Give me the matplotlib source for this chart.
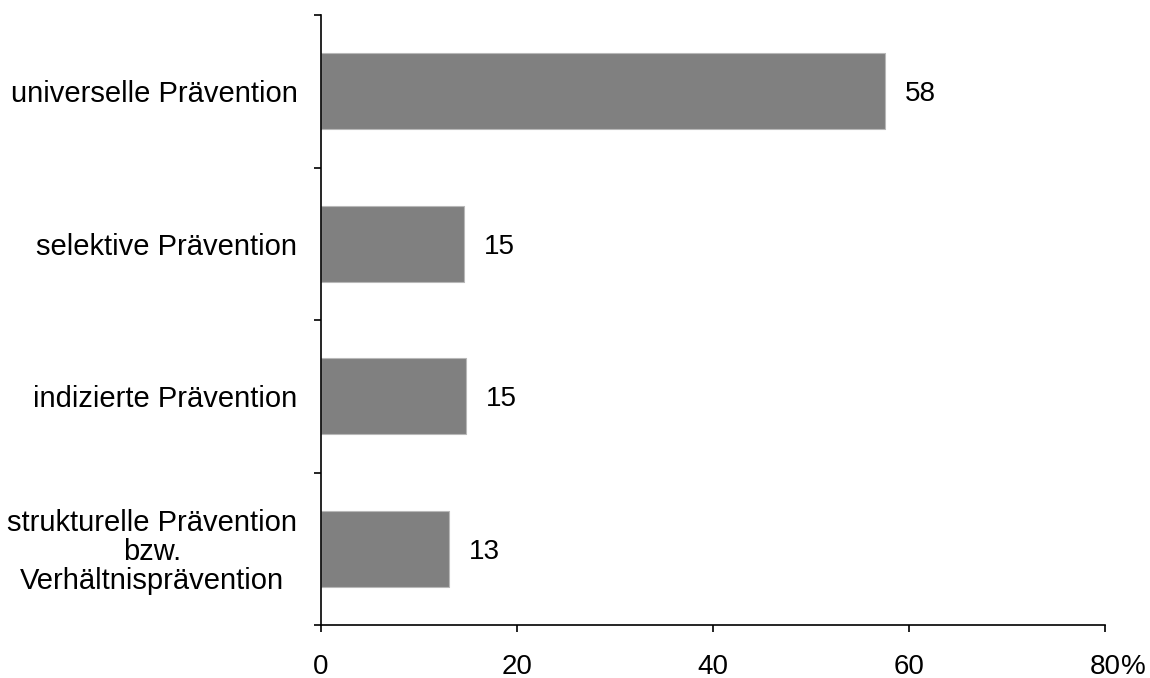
import numpy as np
import matplotlib.pyplot as plt
from matplotlib.ticker import FixedLocator

plt.rcParams['font.family'] = ['Liberation Sans', 'DejaVu Sans']

# shares of prevention approaches (%)
categories = [
    "universelle Prävention",
    "selektive Prävention",
    "indizierte Prävention",
    "strukturelle Prävention\nbzw.\nVerhältnisprävention",
]
values = [57.6, 14.6, 14.8, 13.1]
xticks = [0, 20, 40, 60, 80]

fig = plt.figure(figsize=(11.5, 6.78), dpi=100)
ax = fig.add_axes([321 / 1150, 1 - 625 / 678, (1105 - 321) / 1150, (625 - 15) / 678])

pos = np.arange(len(categories))[::-1]
ax.barh(pos, values, height=0.5, color="#808080", edgecolor="#b8b8b8", linewidth=0.8)

for y, v in zip(pos, values):
    ax.annotate(f"{v:.0f}", (v, y), xytext=(14, -2), textcoords="offset points",
                ha="left", va="center", fontsize=20)

ax.set_xlim(0, 80)
ax.set_ylim(-0.5, len(categories) - 0.5)

# x axis, unit sign placed right after the last tick label
tick_len, tick_pad = 5, 16
ax.set_xticks(xticks)
ax.set_xticklabels([str(t) for t in xticks], fontsize=20)
ax.tick_params(axis="x", direction="out", length=tick_len, width=1.2, pad=tick_pad)
ax.annotate("%", xy=(xticks[-1], 0), xycoords=("data", "axes fraction"),
            xytext=(11.5, -(tick_len + tick_pad)), textcoords="offset points",
            ha="left", va="top", fontsize=20)

# y axis: category labels centred, ticks at the boundaries
ax.set_yticks(pos)
ax.set_yticklabels(categories, fontsize=21, linespacing=1.05)
for lab in ax.get_yticklabels():
    lab.set_multialignment("center")
ax.tick_params(axis="y", which="major", length=0, pad=17)
ax.yaxis.set_minor_locator(FixedLocator(np.arange(-0.5, len(categories), 1.0)))
ax.tick_params(axis="y", which="minor", direction="out", length=5, width=1.2)

for side in ("top", "right"):
    ax.spines[side].set_visible(False)
for side in ("left", "bottom"):
    ax.spines[side].set_linewidth(1.2)

fig.savefig("out.png", dpi=100)
